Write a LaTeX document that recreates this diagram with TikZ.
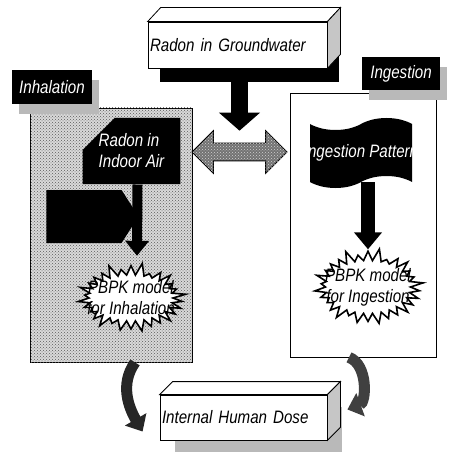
\documentclass[tikz,border=0pt]{standalone}
\usepackage{fontspec}
\setmainfont{Liberation Sans}[FakeStretch=0.84]
\colorlet{colorShadow}{gray!55}
\colorlet{colorSide}{gray!45}
\colorlet{colorDots}{black!65}
\colorlet{colorCurve}{black!85}
\usetikzlibrary{arrows.meta, positioning, shapes.symbols, shapes.arrows, shapes.misc, patterns, shadows}
\tikzset{txt/.style={font=\fontsize{18}{21}\selectfont\itshape}}

\begin{document}
\begin{tikzpicture}[x=1pt, y=1pt, thick,
  face/.style={draw, fill=white, inner sep=0pt, txt},
  tagbox/.style={fill=black, text=white, inner sep=0pt, txt, drop shadow={fill=colorShadow, opacity=1, shadow xshift=7pt, shadow yshift=-10pt}},
  panel/.style={draw, thick},
  burst/.style={starburst, starburst points=30, starburst point height=13pt, draw, line width=1.6pt, fill=white, inner sep=0pt},
  bursttext/.style={txt, align=center, inner sep=0pt},
  curvearrow/.style={line width=11pt, draw=colorCurve, -{Triangle[width=24pt,length=14pt]}}]
\useasboundingbox (0,0) rectangle (454,-457);
\node[panel, fill=gray!30, postaction={pattern=crosshatch dots, pattern color=colorDots}, minimum width=162pt, minimum height=254pt] (inpanel) at (111,-235) {};
\node[panel, fill=white, minimum width=146pt, minimum height=264pt] (ingpanel) at (363,-225) {};
\node[tagbox, minimum width=80pt, minimum height=34pt] (inh) at (52,-87) {Inhalation};
\node[tagbox, minimum width=78pt, minimum height=33pt] (ing) at (401,-73.5) {Ingestion};
\node[face, text width=175pt, inner xsep=2pt, minimum height=46pt, align=left, drop shadow={fill=black, opacity=1, shadow xshift=12pt, shadow yshift=-14pt}] (gw) at (237.5,-45) {Radon in Groundwater};
\draw[fill=white] (gw.north west) -- ++(13,14) -- ([shift={(13,14)}]gw.north east) -- (gw.north east) -- cycle;
\draw[fill=colorSide] (gw.north east) -- ++(13,14) -- ([shift={(13,14)}]gw.south east) -- (gw.south east) -- cycle;
\node[double arrow, draw, fill=gray!90!black, postaction={pattern=crosshatch dots, pattern color=gray!35}, minimum height=95pt, minimum width=42pt, inner xsep=0pt, inner ysep=8.5pt, double arrow head extend=12.5pt] (dbl) at (239.5,-152) {};
\draw[line width=17pt, -{Triangle[width=40pt,length=18pt]}] ([yshift=-12]gw.south -| dbl.north) -- ([yshift=12]dbl.north);
\node[chamfered rectangle, chamfered rectangle corners=north west, chamfered rectangle xsep=16pt, chamfered rectangle ysep=16pt, fill=black, text=white, txt, align=left, inner sep=0pt, minimum width=87pt, minimum height=62pt] (air) at (131.5,-151) {Radon in\\Indoor Air};
\node[signal, signal to=east, signal pointer angle=115, fill=black, minimum width=92pt, minimum height=53pt, inner sep=0pt] (sig) at (84,-216.5) {};
\node[burst, minimum width=110pt, minimum height=72pt] (pbin) at (131,-298) {};
\node[bursttext] (pbintxt) at (pbin) {PBPK model\\for Inhalation};
\draw[line width=10pt, -{Triangle[width=23pt,length=15pt]}] ([xshift=6]air.south) -- ([xshift=6,yshift=8]pbin.north);
\node[tape, tape bend height=12pt, fill=black, inner sep=0pt, minimum width=102pt, minimum height=70pt] (pat) at (361,-153) {};
\node[txt, text=white, inner sep=0pt] (pattxt) at (pat) {Ingestion Pattern};
\node[burst, minimum width=111pt, minimum height=79pt] (pbing) at (368,-287) {};
\node[bursttext] (pbingtxt) at (pbing) {PBPK model\\for Ingestion};
\draw[line width=14pt, -{Triangle[width=27pt,length=17pt]}] (pbing.north |- pat.south) -- (pbing.north);
\node[face, text width=163pt, inner xsep=2pt, minimum height=45pt, align=left, drop shadow={fill=colorShadow, opacity=1, shadow xshift=15pt, shadow yshift=-12pt}] (dose) at (243.5,-417.5) {Internal Human Dose};
\draw[fill=white] (dose.north west) -- ++(13,13) -- ([shift={(13,13)}]dose.north east) -- (dose.north east) -- cycle;
\draw[fill=colorSide] (dose.north east) -- ++(13,13) -- ([shift={(13,13)}]dose.south east) -- (dose.south east) -- cycle;
\draw[curvearrow] ([xshift=24]inpanel.south) to[out=235, in=120] ([xshift=-17,yshift=-14]dose.west);
\draw[curvearrow, draw=gray!50!black] ([xshift=-14]ingpanel.south) to[out=-20, in=20] ([xshift=20,yshift=8]dose.east);
\end{tikzpicture}
\end{document}
